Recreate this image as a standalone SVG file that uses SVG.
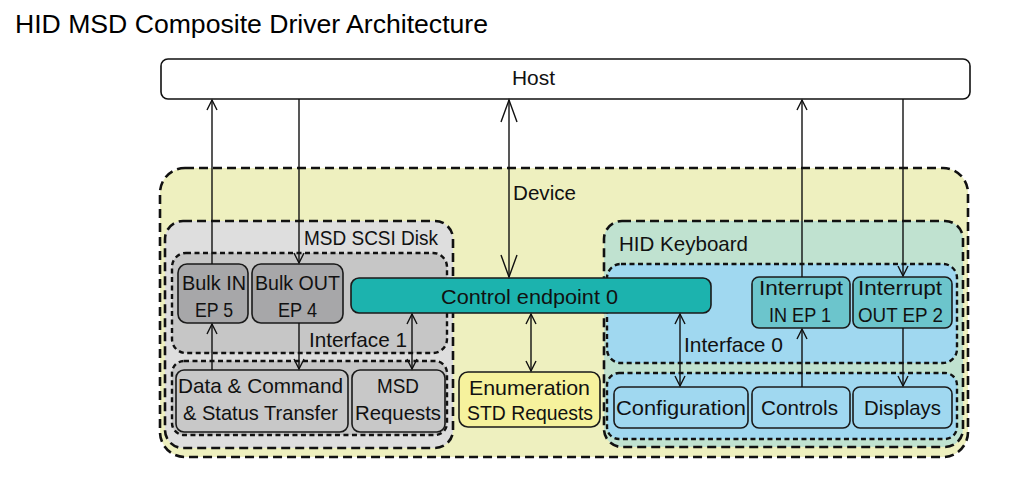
<svg xmlns="http://www.w3.org/2000/svg" width="1009" height="490" viewBox="0 0 1009 490">
<defs>
<style>
text{font-family:"Liberation Sans",Arial,sans-serif;font-size:21px;fill:#111}
.title{font-size:26px;fill:#000}
.dash{stroke:#111;stroke-width:2.6;stroke-dasharray:9 5}
.dot{stroke:#111;stroke-width:2.4;stroke-dasharray:5 3.5}
.box{stroke:#1a1a1a;stroke-width:1.6}
.ln{stroke:#111;stroke-width:1.4;fill:none}
</style>
<marker id="a" markerUnits="userSpaceOnUse" viewBox="-12 -7 14 14" refX="0" refY="0" markerWidth="14" markerHeight="14" orient="auto-start-reverse">
<path d="M-10,-5 L0,0 L-10,5" fill="none" stroke="#111" stroke-width="1.4"/>
</marker>
<marker id="b" markerUnits="userSpaceOnUse" viewBox="-24 -10 26 20" refX="0" refY="0" markerWidth="26" markerHeight="20" orient="auto-start-reverse">
<path d="M-22,-8 L0,0 L-22,8" fill="none" stroke="#111" stroke-width="1.4"/>
</marker>
</defs>
<rect width="1009" height="490" fill="#fff"/>
<text class="title" x="15" y="33" textLength="473" lengthAdjust="spacingAndGlyphs">HID MSD Composite Driver Architecture</text>

<g id="host">
<rect x="161" y="59" width="809" height="40" rx="7" fill="#fff" stroke="#111" stroke-width="1.6"/>
<text x="512" y="85" textLength="43" lengthAdjust="spacingAndGlyphs">Host</text>
</g>

<g id="device">
<rect x="160" y="168" width="808" height="289" rx="25" fill="#eef0bf" class="dash"/>
<text x="513" y="200" textLength="63" lengthAdjust="spacingAndGlyphs">Device</text>
</g>

<g id="msd-scsi-disk">
<rect x="165" y="221" width="288" height="227" rx="18" fill="#dedede" class="dash"/>
<text x="304" y="245" textLength="134" lengthAdjust="spacingAndGlyphs">MSD SCSI Disk</text>
</g>
<g id="interface1">
<rect x="172" y="253" width="275" height="100" rx="14" fill="#c6c6c6" class="dot"/>
<text x="309" y="347" textLength="98" lengthAdjust="spacingAndGlyphs">Interface 1</text>
</g>
<g id="msd-functions">
<rect x="172" y="361" width="275" height="74" rx="12" fill="#c6c6c6" class="dot"/>
</g>
<g id="bulk-in">
<rect x="178" y="264" width="70" height="59" rx="9" fill="#a7a7a9" class="box"/>
<text x="182" y="290" textLength="64" lengthAdjust="spacingAndGlyphs">Bulk IN</text>
<text x="195" y="317" textLength="38" lengthAdjust="spacingAndGlyphs">EP 5</text>
</g>
<g id="bulk-out">
<rect x="252" y="264" width="91" height="59" rx="9" fill="#a7a7a9" class="box"/>
<text x="255" y="290" textLength="85" lengthAdjust="spacingAndGlyphs">Bulk OUT</text>
<text x="278" y="317" textLength="39" lengthAdjust="spacingAndGlyphs">EP 4</text>
</g>
<g id="data-command">
<rect x="176" y="370" width="172" height="62" rx="8" fill="#c8c8c8" class="box"/>
<text x="178" y="393" textLength="165" lengthAdjust="spacingAndGlyphs">Data &amp; Command</text>
<text x="183" y="420" textLength="155" lengthAdjust="spacingAndGlyphs">&amp; Status Transfer</text>
</g>
<g id="msd-requests">
<rect x="352" y="370" width="93" height="62" rx="8" fill="#c8c8c8" class="box"/>
<text x="377" y="393" textLength="42" lengthAdjust="spacingAndGlyphs">MSD</text>
<text x="355" y="420" textLength="86" lengthAdjust="spacingAndGlyphs">Requests</text>
</g>

<g id="hid-keyboard">
<rect x="604" y="221" width="359" height="226" rx="18" fill="#c0e2d0" class="dash"/>
<text x="619" y="251" textLength="129" lengthAdjust="spacingAndGlyphs">HID Keyboard</text>
</g>
<g id="interface0">
<rect x="607" y="264" width="350" height="99" rx="14" fill="#a0d8f0" class="dot"/>
<text x="684" y="352" textLength="99" lengthAdjust="spacingAndGlyphs">Interface 0</text>
</g>
<g id="hid-functions">
<rect x="607" y="373" width="350" height="66" rx="12" fill="#a0d8f0" class="dot"/>
</g>
<g id="interrupt-in">
<rect x="752" y="277" width="98" height="51" rx="7" fill="#6cc5cc" class="box"/>
<text x="759" y="295" textLength="84" lengthAdjust="spacingAndGlyphs">Interrupt</text>
<text x="769" y="322" textLength="62" lengthAdjust="spacingAndGlyphs">IN EP 1</text>
</g>
<g id="interrupt-out">
<rect x="853" y="277" width="99" height="51" rx="7" fill="#6cc5cc" class="box"/>
<text x="858" y="295" textLength="84" lengthAdjust="spacingAndGlyphs">Interrupt</text>
<text x="858" y="322" textLength="85" lengthAdjust="spacingAndGlyphs">OUT EP 2</text>
</g>
<g id="configuration">
<rect x="614" y="387" width="134" height="41" rx="7" fill="#a0d8f0" class="box"/>
<text x="616" y="415" textLength="130" lengthAdjust="spacingAndGlyphs">Configuration</text>
</g>
<g id="controls">
<rect x="752" y="387" width="98" height="41" rx="7" fill="#a0d8f0" class="box"/>
<text x="761" y="415" textLength="77" lengthAdjust="spacingAndGlyphs">Controls</text>
</g>
<g id="displays">
<rect x="853" y="387" width="99" height="41" rx="7" fill="#a0d8f0" class="box"/>
<text x="864" y="415" textLength="77" lengthAdjust="spacingAndGlyphs">Displays</text>
</g>

<g id="control-endpoint0">
<rect x="351" y="278" width="360" height="35" rx="8" fill="#1cb3ae" class="box"/>
<text x="441" y="304" textLength="177" lengthAdjust="spacingAndGlyphs">Control endpoint 0</text>
</g>
<g id="enumeration">
<rect x="459" y="372" width="141" height="55" rx="9" fill="#f6f29d" class="box"/>
<text x="469" y="395" textLength="121" lengthAdjust="spacingAndGlyphs">Enumeration</text>
<text x="467" y="420" textLength="126" lengthAdjust="spacingAndGlyphs">STD Requests</text>
</g>

<g id="connectors">
<line class="ln" x1="212" y1="264" x2="212" y2="100" marker-end="url(#a)"/>
<line class="ln" x1="212" y1="370" x2="212" y2="324" marker-end="url(#a)"/>
<line class="ln" x1="299" y1="99" x2="299" y2="263" marker-end="url(#a)"/>
<line class="ln" x1="299" y1="323" x2="299" y2="369" marker-end="url(#a)"/>
<line class="ln" x1="509" y1="100" x2="509" y2="277" marker-start="url(#b)" marker-end="url(#b)"/>
<line class="ln" x1="412" y1="314" x2="412" y2="369" marker-start="url(#a)" marker-end="url(#a)"/>
<line class="ln" x1="531" y1="314" x2="531" y2="371" marker-start="url(#a)" marker-end="url(#a)"/>
<line class="ln" x1="680" y1="314" x2="680" y2="386" marker-start="url(#a)" marker-end="url(#a)"/>
<line class="ln" x1="802" y1="387" x2="802" y2="329" marker-end="url(#a)"/>
<line class="ln" x1="802" y1="277" x2="802" y2="100" marker-end="url(#a)"/>
<line class="ln" x1="903" y1="99" x2="903" y2="276" marker-end="url(#a)"/>
<line class="ln" x1="903" y1="328" x2="903" y2="386" marker-end="url(#a)"/>
</g>
</svg>
